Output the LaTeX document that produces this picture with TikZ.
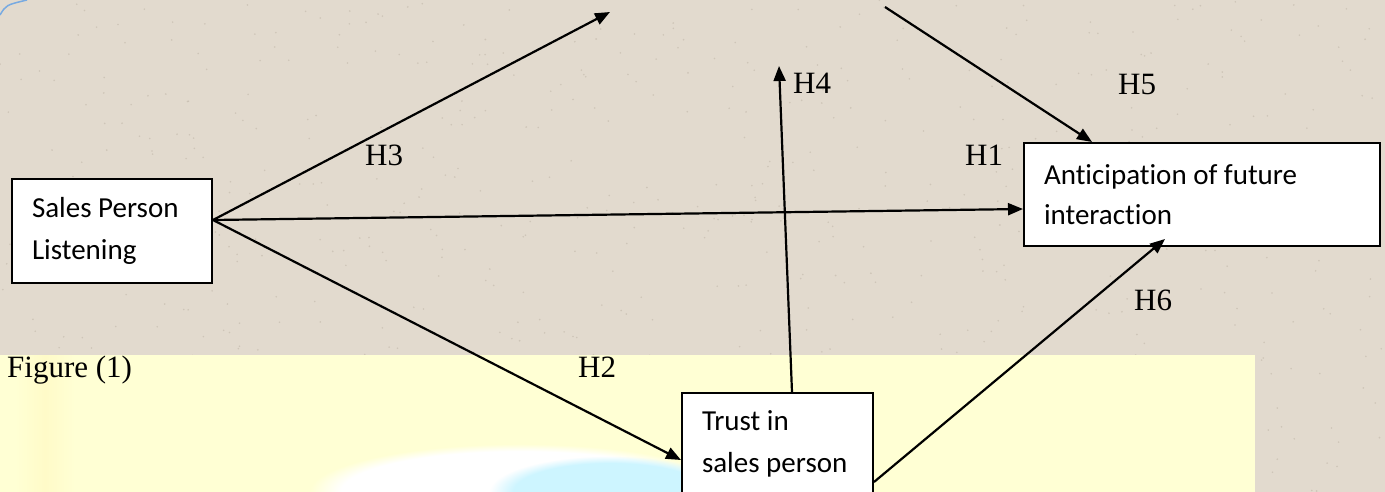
\documentclass[tikz,border=0pt]{standalone}
\usepackage{fontspec}
\setmainfont{Liberation Serif}
\newfontfamily\calib[Ligatures=NoCommon]{Carlito}
\usetikzlibrary{arrows.meta,fadings}
\definecolor{bgc}{RGB}{226,218,206}
\definecolor{dotc}{RGB}{190,180,166}
\definecolor{yel}{RGB}{255,255,212}
\definecolor{yel2}{RGB}{255,251,200}
\definecolor{cyn}{RGB}{205,245,255}
\definecolor{arcb}{RGB}{120,170,225}
\begin{document}
\begin{tikzpicture}[x=1pt,y=-1pt,
  box/.style={draw=black, line width=2pt, fill=white, rectangle, align=flush left,
    font=\calib\fontsize{29}{42}\selectfont, inner xsep=20pt, inner ysep=0pt},
  arr/.style={line width=2.2pt, -{Triangle[length=15pt,width=12pt]}},
  hlab/.style={anchor=base west, inner sep=0pt, font=\fontsize{31}{36}\selectfont}]
\useasboundingbox (0,0) rectangle (1385,492);
\clip (0,0) rectangle (1385,492);
% background texture
\fill[bgc] (0,0) rectangle (1385,492);
\pgfmathsetseed{7}
\foreach \i in {1,...,700} \fill[dotc, opacity=0.55] (rnd*1385, rnd*492) circle (0.9pt);
\draw[arcb, line width=1.5pt] (0,15) .. controls (6,5) .. (27,0);
% yellow panel
\fill[yel] (0,355) rectangle (1255,492);
\shade[left color=yel, right color=yel, middle color=yel2] (15,355) rectangle (75,492);
\fill[white, path fading=circle with fuzzy edge 15 percent] (520,492) ellipse [x radius=210, y radius=48];
\fill[cyn, path fading=circle with fuzzy edge 20 percent] (610,492) ellipse [x radius=120, y radius=36];
% nodes
\node[box, text width=160pt, minimum height=104pt, anchor=north west] (spl) at (11,178) {Sales Person\\Listening};
\node[box, text width=316pt, minimum height=103pt, anchor=north west,
      font=\calib\fontsize{29}{40}\selectfont] (ant) at (1023,142) {Anticipation of future\\interaction};
\node[box, text width=151pt, inner ysep=18pt, anchor=north west] (trust) at (681,392) {Trust in\\sales person};
% labels
\node[hlab] (h3) at (365,166) {H3};
\node[hlab] (h1) at (965,166) {H1};
\node[hlab] (h4) at (793,94) {H4};
\node[hlab] (h5) at (1118,95) {H5};
\node[hlab] (h6) at (1134,310) {H6};
\node[hlab] (h2) at (578,377) {H2};
\node[hlab] (fig) at (7,377) {Figure (1)};
% free ends
\coordinate (h3end) at (610,12);
\coordinate (h4end) at (779,66);
\coordinate (h5start) at (885,7);
% connectors
\draw[arr] ([yshift=11pt]spl.east) -- (h3end);
\draw[arr] ([yshift=11pt]spl.east) -- ([yshift=-14.5pt]ant.west);
\draw[arr] ([yshift=11pt]spl.east) -- ([yshift=-68pt]trust.north west);
\draw[arr] ([xshift=111pt]trust.north west) -- (h4end);
\draw[arr] (h5start) -- ([xshift=69pt]ant.north west);
\draw[arr] ([yshift=-90pt]trust.north east) -- ([xshift=142pt,yshift=8pt]ant.south west);
\end{tikzpicture}
\end{document}
